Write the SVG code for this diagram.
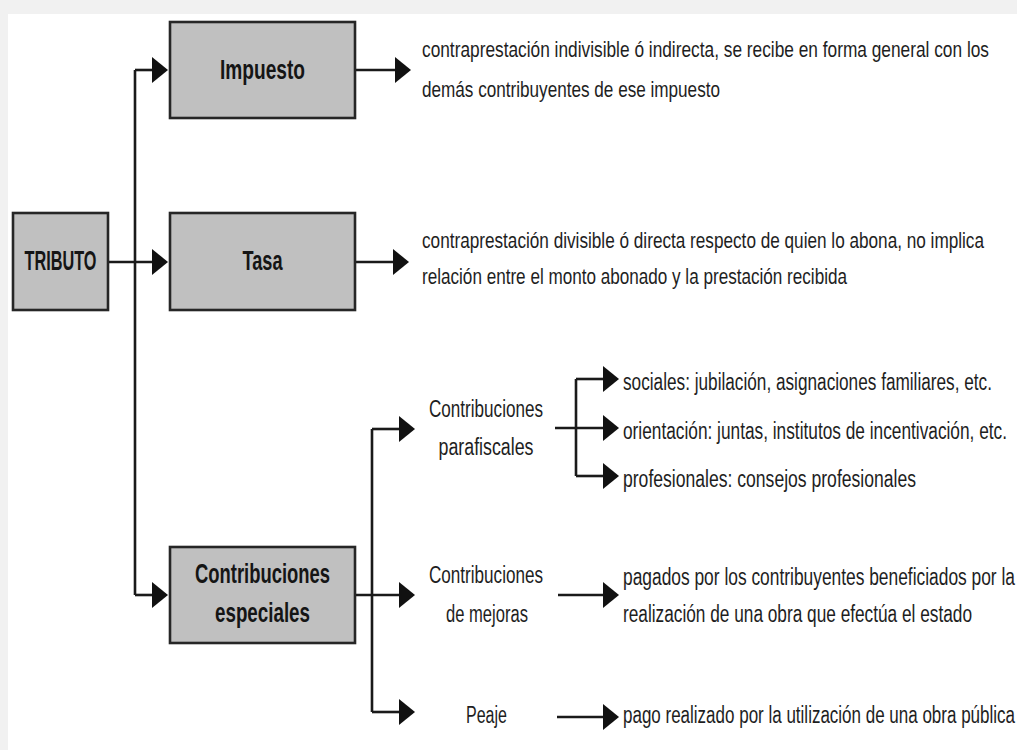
<svg xmlns="http://www.w3.org/2000/svg" width="1017" height="750" viewBox="0 0 1017 750">
  <style>
    .box { fill: #c0c0c0; stroke: #262626; stroke-width: 2.6; }
    .bt { font-family: "Liberation Sans", Arial, sans-serif; font-weight: bold; font-size: 18.4px; fill: #151515; text-anchor: middle; }
    .mid { font-family: "Liberation Sans", Arial, sans-serif; font-size: 17.1px; fill: #1e1e1e; text-anchor: middle; }
    .desc { font-family: "Liberation Sans", Arial, sans-serif; font-size: 17.3px; fill: #1e1e1e; }
    .list { font-family: "Liberation Sans", Arial, sans-serif; font-size: 16.8px; fill: #1e1e1e; }
    .c { fill: none; stroke: #1a1a1a; stroke-width: 2.6; }
    .a { marker-end: url(#ah); }
  </style>
  <defs>
    <marker id="ah" markerUnits="userSpaceOnUse" markerWidth="18" markerHeight="28" refX="0" refY="13" orient="auto">
      <path d="M0,0 L16,13 L0,26 Z" fill="#111"/>
    </marker>
  </defs>
  <rect x="0" y="0" width="1017" height="750" fill="#ffffff"/>
  <rect x="0" y="0" width="1017" height="14" fill="#f1f1f1"/>
  <rect x="0" y="0" width="8" height="750" fill="#f1f1f1"/>

  <g id="connectors">
    <path class="c" d="M135,70 V595"/>
    <path class="c a" d="M135,70 H152"/>
    <path class="c a" d="M109,262 H152"/>
    <path class="c a" d="M135,595 H152"/>
    <path class="c a" d="M356,70 H395"/>
    <path class="c a" d="M356,262 H393"/>
    <path class="c a" d="M356,595 H399"/>
    <path class="c" d="M372,429 V712"/>
    <path class="c a" d="M372,429 H399"/>
    <path class="c a" d="M372,712 H399"/>
    <path class="c a" d="M555,428 H603"/>
    <path class="c" d="M576,379 V476"/>
    <path class="c a" d="M576,379 H603"/>
    <path class="c a" d="M576,476 H603"/>
    <path class="c a" d="M558,595 H603"/>
    <path class="c a" d="M557,717 H603"/>
  </g>

  <g id="tributo">
    <rect class="box" x="13" y="213" width="95" height="97"/>
    <text class="bt" transform="translate(60.5,270) scale(1,1.47)" textLength="72" lengthAdjust="spacingAndGlyphs">TRIBUTO</text>
  </g>
  <g id="impuesto">
    <rect class="box" x="170" y="22" width="185" height="96"/>
    <text class="bt" transform="translate(262.5,79) scale(1,1.47)" textLength="85" lengthAdjust="spacingAndGlyphs">Impuesto</text>
  </g>
  <g id="tasa">
    <rect class="box" x="170" y="213" width="185" height="97"/>
    <text class="bt" transform="translate(262.5,270) scale(1,1.47)" textLength="40" lengthAdjust="spacingAndGlyphs">Tasa</text>
  </g>
  <g id="contribuciones-especiales">
    <rect class="box" x="170" y="547" width="185" height="96"/>
    <text class="bt" transform="translate(262.5,583) scale(1,1.47)" textLength="135" lengthAdjust="spacingAndGlyphs">Contribuciones</text>
    <text class="bt" transform="translate(262.5,622) scale(1,1.47)" textLength="95" lengthAdjust="spacingAndGlyphs">especiales</text>
  </g>

  <g id="impuesto-desc">
    <text class="desc" transform="translate(422,57) scale(1,1.3)" textLength="567" lengthAdjust="spacingAndGlyphs">contraprestación indivisible ó indirecta, se recibe en forma general con los</text>
    <text class="desc" transform="translate(422,97) scale(1,1.3)" textLength="298" lengthAdjust="spacingAndGlyphs">demás contribuyentes de ese impuesto</text>
  </g>
  <g id="tasa-desc">
    <text class="desc" transform="translate(422,248) scale(1,1.3)" textLength="562" lengthAdjust="spacingAndGlyphs">contraprestación divisible ó directa respecto de quien lo abona, no implica</text>
    <text class="desc" transform="translate(422,284) scale(1,1.3)" textLength="425" lengthAdjust="spacingAndGlyphs">relación entre el monto abonado y la prestación recibida</text>
  </g>

  <g id="parafiscales">
    <text class="mid" transform="translate(486,417) scale(1,1.39)" textLength="114" lengthAdjust="spacingAndGlyphs">Contribuciones</text>
    <text class="mid" transform="translate(486,455) scale(1,1.39)" textLength="95" lengthAdjust="spacingAndGlyphs">parafiscales</text>
  </g>
  <g id="sociales">
    <text class="list" transform="translate(623,390) scale(1,1.4)" textLength="369" lengthAdjust="spacingAndGlyphs">sociales: jubilación, asignaciones familiares, etc.</text>
  </g>
  <g id="orientacion">
    <text class="list" transform="translate(623,439) scale(1,1.4)" textLength="384" lengthAdjust="spacingAndGlyphs">orientación: juntas, institutos de incentivación, etc.</text>
  </g>
  <g id="profesionales">
    <text class="list" transform="translate(623,487) scale(1,1.4)" textLength="293" lengthAdjust="spacingAndGlyphs">profesionales: consejos profesionales</text>
  </g>

  <g id="mejoras">
    <text class="mid" transform="translate(486,583) scale(1,1.39)" textLength="114" lengthAdjust="spacingAndGlyphs">Contribuciones</text>
    <text class="mid" transform="translate(487,622) scale(1,1.39)" textLength="82" lengthAdjust="spacingAndGlyphs">de mejoras</text>
  </g>
  <g id="mejoras-desc">
    <text class="list" transform="translate(623,585) scale(1,1.4)" textLength="392" lengthAdjust="spacingAndGlyphs">pagados por los contribuyentes beneficiados por la</text>
    <text class="list" transform="translate(623,622) scale(1,1.4)" textLength="349" lengthAdjust="spacingAndGlyphs">realización de una obra que efectúa el estado</text>
  </g>

  <g id="peaje">
    <text class="mid" transform="translate(486.5,723) scale(1,1.39)" textLength="41" lengthAdjust="spacingAndGlyphs">Peaje</text>
  </g>
  <g id="peaje-desc">
    <text class="list" transform="translate(623,723) scale(1,1.4)" textLength="392" lengthAdjust="spacingAndGlyphs">pago realizado por la utilización de una obra pública</text>
  </g>
</svg>
